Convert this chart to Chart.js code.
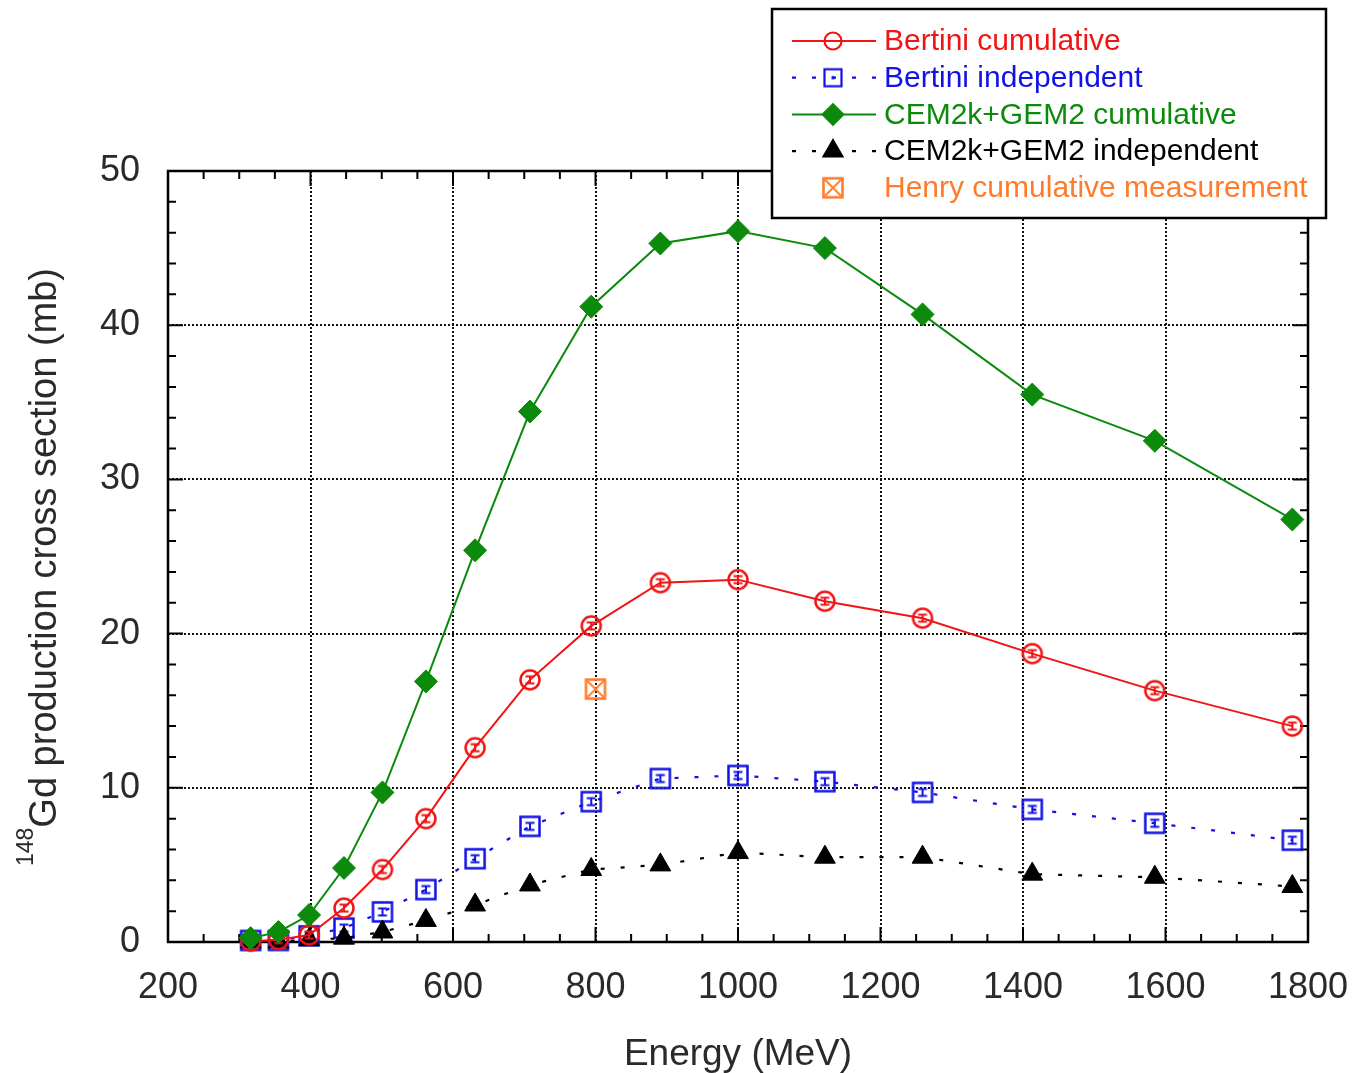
<!DOCTYPE html>
<html>
<head>
<meta charset="utf-8">
<title>148Gd production cross section</title>
<script src="https://cdn.jsdelivr.net/npm/chart.js@4.4.0/dist/chart.umd.min.js"></script>
<style>
  html, body { margin: 0; padding: 0; background: #fff; }
  canvas { display: block; }
</style>
</head>
<body>
<canvas id="gdChart" width="1352" height="1073"></canvas>
<script>
// proton energies (MeV) of the calculated points
const energies = [316, 355, 398, 447, 501, 562, 631, 708, 794, 891, 1000, 1122, 1259, 1413, 1585, 1778];

// cross sections in mb
const bertiniCumulative  = [0.05, 0.15, 0.45, 2.2, 4.7, 8.0, 12.6, 17.0, 20.5, 23.3, 23.5, 22.1, 21.0, 18.7, 16.3, 14.0];
const bertiniIndependent = [0.1, 0.1, 0.4, 0.9, 1.95, 3.4, 5.4, 7.5, 9.1, 10.6, 10.8, 10.4, 9.7, 8.6, 7.7, 6.6];
const cemCumulative      = [0.25, 0.65, 1.75, 4.8, 9.7, 16.9, 25.4, 34.4, 41.2, 45.3, 46.1, 45.0, 40.7, 35.5, 32.5, 27.4];
const cemIndependent     = [0.0, 0.0, 0.15, 0.25, 0.65, 1.4, 2.4, 3.7, 4.7, 5.0, 5.8, 5.5, 5.5, 4.4, 4.2, 3.6];

// Henry measurement
const henryEnergy = [800];
const henryCumulative = [16.4];

const xTickStep = 200;
const yTickStep = 10;
const xMinorStep = 50;
const yMinorStep = 2;

const yTitleSup = '148';
const yTitleMain = 'Gd production cross section (mb)';
const xTitle = 'Energy (MeV)';

const RED = '#f01414';
const BLUE = '#1212e6';
const GREEN = '#0c8a0c';
const BLACK = '#000000';
const ORANGE = '#ff7a2a';
const TEXT = '#2a2a2a';
const FONT = '"Liberation Sans", Arial, sans-serif';

function points(xs, ys) {
    return xs.map(function(x, i) { return { x: x, y: ys[i] }; });
}

// small canvases used as point styles
function makeMarker(size, draw) {
    const c = document.createElement('canvas');
    c.width = size; c.height = size;
    const g = c.getContext('2d');
    draw(g, size / 2);
    return c;
}
function errBar(g, m, half) {
    g.beginPath();
    g.moveTo(m - 4.5, m - half); g.lineTo(m + 4.5, m - half);
    g.moveTo(m - 4.5, m + half); g.lineTo(m + 4.5, m + half);
    g.moveTo(m, m - half); g.lineTo(m, m + half);
    g.stroke();
}
const circleMark = makeMarker(26, function(g, m) {
    g.strokeStyle = RED; g.lineWidth = 2.5;
    g.beginPath(); g.arc(m, m, 9.5, 0, Math.PI * 2); g.stroke();
    g.lineWidth = 2; errBar(g, m, 3.5);
});
const circleLegend = makeMarker(26, function(g, m) {
    g.strokeStyle = RED; g.lineWidth = 2.2;
    g.beginPath(); g.arc(m, m, 8.5, 0, Math.PI * 2); g.stroke();
});
const squareMark = makeMarker(26, function(g, m) {
    g.strokeStyle = BLUE; g.lineWidth = 2.5;
    g.strokeRect(m - 9.5, m - 9.5, 19, 19);
    g.lineWidth = 2; errBar(g, m, 3.5);
});
const squareLegend = makeMarker(26, function(g, m) {
    g.strokeStyle = BLUE; g.lineWidth = 2.2;
    g.strokeRect(m - 8.5, m - 8.5, 17, 17);
    g.fillStyle = BLUE; g.fillRect(m - 1.5, m - 1.5, 3, 3);
});
const henryMark = makeMarker(26, function(g, m) {
    g.strokeStyle = ORANGE; g.lineWidth = 2.5;
    g.strokeRect(m - 9.5, m - 9.5, 19, 19);
    g.lineWidth = 1.8;
    g.beginPath();
    g.moveTo(m - 8, m - 8); g.lineTo(m + 8, m + 8);
    g.moveTo(m + 8, m - 8); g.lineTo(m - 8, m + 8);
    g.stroke();
});

// frame with inward ticks on all four sides
const axisFrame = {
    id: 'axisFrame',
    beforeDatasetsDraw(chart) {
        const ctx = chart.ctx, a = chart.chartArea;
        const xs = chart.scales.x, ys = chart.scales.y;
        ctx.save();
        ctx.strokeStyle = '#000';
        ctx.lineWidth = 2.5;
        ctx.strokeRect(a.left, a.top, a.right - a.left, a.bottom - a.top);
        ctx.lineWidth = 2;
        ctx.beginPath();
        for (let e = xs.min + xMinorStep; e < xs.max; e += xMinorStep) {
            const px = xs.getPixelForValue(e);
            const len = (e % xTickStep === 0) ? 15 : 8;
            ctx.moveTo(px, a.bottom); ctx.lineTo(px, a.bottom - len);
            ctx.moveTo(px, a.top); ctx.lineTo(px, a.top + len);
        }
        for (let v = ys.min + yMinorStep; v < ys.max; v += yMinorStep) {
            const py = ys.getPixelForValue(v);
            const len = (v % yTickStep === 0) ? 15 : 8;
            ctx.moveTo(a.left, py); ctx.lineTo(a.left + len, py);
            ctx.moveTo(a.right, py); ctx.lineTo(a.right - len, py);
        }
        ctx.stroke();
        ctx.restore();
    }
};

// rotated y title with the mass number as a superscript
const yTitle = {
    id: 'yTitle',
    afterDraw(chart) {
        const ctx = chart.ctx;
        const supFont = '23px ' + FONT, mainFont = '38px ' + FONT;
        ctx.save();
        ctx.font = supFont;
        const wSup = ctx.measureText(yTitleSup).width;
        ctx.font = mainFont;
        const wMain = ctx.measureText(yTitleMain).width;
        const start = -(wSup + wMain) / 2;
        ctx.translate(56, 567);
        ctx.rotate(-Math.PI / 2);
        ctx.fillStyle = TEXT;
        ctx.textAlign = 'left';
        ctx.textBaseline = 'alphabetic';
        ctx.font = supFont;
        ctx.fillText(yTitleSup, start, -23);
        ctx.font = mainFont;
        ctx.fillText(yTitleMain, start + wSup, 0);
        ctx.restore();
    }
};

// boxed legend in the upper right corner
const boxLegend = {
    id: 'boxLegend',
    afterDraw(chart) {
        const ctx = chart.ctx;
        ctx.save();
        ctx.fillStyle = '#fff';
        ctx.fillRect(772, 9, 554, 209);
        ctx.strokeStyle = '#000';
        ctx.lineWidth = 2.5;
        ctx.strokeRect(772, 9, 554, 209);
        ctx.font = '30px ' + FONT;
        ctx.textBaseline = 'middle';
        ctx.textAlign = 'left';
        chart.data.datasets.forEach(function(ds, i) {
            const y = 41 + i * 36.7;
            if (ds.showLine !== false) {
                ctx.save();
                ctx.strokeStyle = ds.borderColor;
                ctx.lineWidth = ds.borderWidth;
                ctx.setLineDash(ds.borderDash || []);
                ctx.beginPath();
                ctx.moveTo(792, y); ctx.lineTo(876, y);
                ctx.stroke();
                ctx.restore();
            }
            ctx.fillStyle = ds.pointBackgroundColor;
            ctx.strokeStyle = ds.pointBorderColor;
            Chart.helpers.drawPoint(ctx, {
                pointStyle: ds.legendMarker || ds.pointStyle,
                radius: ds.legendRadius || ds.pointRadius,
                borderWidth: ds.pointBorderWidth,
                rotation: 0
            }, 833, y);
            ctx.fillStyle = ds.textColor;
            ctx.fillText(ds.label, 884, y + 1);
        });
        ctx.restore();
    }
};

new Chart(document.getElementById('gdChart'), {
    type: 'line',
    data: {
        datasets: [{
            label: 'Bertini cumulative',
            data: points(energies, bertiniCumulative),
            borderColor: RED, borderWidth: 2, textColor: RED,
            pointStyle: circleMark, legendMarker: circleLegend, pointRadius: 11,
            pointBackgroundColor: RED, pointBorderColor: RED, pointBorderWidth: 0,
            order: 2
        }, {
            label: 'Bertini independent',
            data: points(energies, bertiniIndependent),
            borderColor: BLUE, borderWidth: 2.2, borderDash: [4, 16], textColor: BLUE,
            pointStyle: squareMark, legendMarker: squareLegend, pointRadius: 11,
            pointBackgroundColor: BLUE, pointBorderColor: BLUE, pointBorderWidth: 0,
            order: 4
        }, {
            label: 'CEM2k+GEM2 cumulative',
            data: points(energies, cemCumulative),
            borderColor: GREEN, borderWidth: 2, textColor: GREEN,
            pointStyle: 'rectRot', pointRadius: 11.5, legendRadius: 10,
            pointBackgroundColor: GREEN, pointBorderColor: GREEN, pointBorderWidth: 1,
            order: 1
        }, {
            label: 'CEM2k+GEM2 independent',
            data: points(energies, cemIndependent),
            borderColor: BLACK, borderWidth: 2.2, borderDash: [4, 16], textColor: BLACK,
            pointStyle: 'triangle', pointRadius: 12, legendRadius: 10.5,
            pointBackgroundColor: BLACK, pointBorderColor: BLACK, pointBorderWidth: 1,
            order: 3
        }, {
            label: 'Henry cumulative measurement',
            data: points(henryEnergy, henryCumulative),
            showLine: false, textColor: ORANGE,
            pointStyle: henryMark, pointRadius: 11,
            pointBackgroundColor: ORANGE, pointBorderColor: ORANGE, pointBorderWidth: 0,
            order: 0
        }]
    },
    options: {
        responsive: false,
        animation: false,
        events: [],
        layout: { padding: { left: 0, top: 171, right: 44, bottom: 0 } },
        datasets: { line: { clip: false, tension: 0, fill: false } },
        plugins: {
            legend: { display: false },
            tooltip: { enabled: false }
        },
        scales: {
            x: {
                type: 'linear', min: 200, max: 1800,
                ticks: {
                    stepSize: xTickStep, autoSkip: false, maxRotation: 0, padding: 24,
                    color: TEXT, font: { family: FONT, size: 36 },
                    callback: function(v) { return String(v); }
                },
                grid: { color: '#111', lineWidth: 2, drawTicks: false },
                border: { display: false, dash: [2, 2] },
                title: {
                    display: true, text: xTitle, color: TEXT,
                    font: { family: FONT, size: 37 }, padding: { top: 0, bottom: -4 }
                },
                afterFit: function(scale) {
                    scale.height = 131;
                    scale.paddingLeft = 0;
                    scale.paddingRight = 0;
                }
            },
            y: {
                type: 'linear', min: 0, max: 50,
                ticks: {
                    stepSize: yTickStep, padding: 28,
                    color: TEXT, font: { family: FONT, size: 36 },
                    callback: function(v) { return String(v); }
                },
                grid: { color: '#111', lineWidth: 2, drawTicks: false },
                border: { display: false, dash: [2, 2] },
                afterFit: function(scale) { scale.width = 168; }
            }
        }
    },
    plugins: [axisFrame, yTitle, boxLegend]
});
</script>
</body>
</html>
